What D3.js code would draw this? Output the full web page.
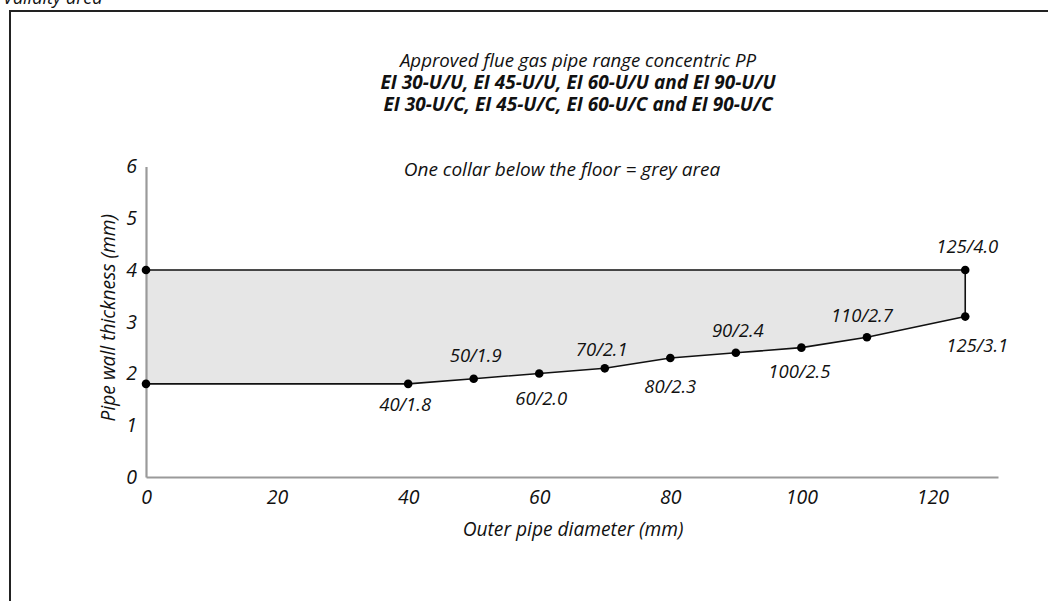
<!DOCTYPE html>
<html>
<head>
<meta charset="utf-8">
<script src="https://cdn.jsdelivr.net/npm/d3@7"></script>
<style>
  html, body { margin: 0; padding: 0; background: #fff; }
  svg { display: block; }
  text { font-family: "Open Sans", "Noto Sans", sans-serif; font-style: italic; fill: #111; }
</style>
</head>
<body>
<svg id="chart" width="1048" height="601"></svg>
<script>
// Outer pipe diameter (mm) and minimum wall thickness (mm) along the lower boundary
const diameters  = [0, 40, 50, 60, 70, 80, 90, 100, 110, 125];
const minWall    = [1.8, 1.8, 1.9, 2.0, 2.1, 2.3, 2.4, 2.5, 2.7, 3.1];
// Upper boundary of the approved range
const maxDiameter = 125;
const maxWall     = 4.0;
// Point labels on the boundary ("diameter/thickness")
const labelD      = [40, 50, 60, 70, 80, 90, 100, 110, 125, 125];
const labelT      = [1.8, 1.9, 2.0, 2.1, 2.3, 2.4, 2.5, 2.7, 3.1, 4.0];
// Axis ticks
const xTicks = [0, 20, 40, 60, 80, 100, 120];
const yTicks = [0, 1, 2, 3, 4, 5, 6];

const titleLines = [
  { text: "Approved flue gas pipe range concentric PP", bold: false },
  { text: "EI 30-U/U, EI 45-U/U, EI 60-U/U and EI 90-U/U", bold: true },
  { text: "EI 30-U/C, EI 45-U/C, EI 60-U/C and EI 90-U/C", bold: true }
];
const noteText = "One collar below the floor = grey area";

const svg = d3.select("#chart");

// Frame with caption
svg.append("text").attr("x", 3).attr("y", 4).attr("font-size", 18).text("Validity area");
svg.append("rect").attr("x", 10).attr("y", 11).attr("width", 1100).attr("height", 700)
  .attr("fill", "none").attr("stroke", "#222").attr("stroke-width", 2);

const x = d3.scaleLinear().domain([0, 130]).range([146, 998]);
const y = d3.scaleLinear().domain([0, 6]).range([477, 166.5]);

// Approved region: between the lower boundary and the max wall thickness
const lower = diameters.map((d, i) => [d, minWall[i]]);
const region = [[0, maxWall], [maxDiameter, maxWall]].concat(lower.slice().reverse());
svg.append("path")
  .datum(region)
  .attr("d", d3.line().x(d => x(d[0])).y(d => y(d[1])).curve(d3.curveLinearClosed))
  .attr("fill", "#e6e6e6").attr("stroke", "none");

// Axes
const xAxis = svg.append("g").attr("transform", `translate(0,${y(0)})`)
  .call(d3.axisBottom(x).tickValues(xTicks).tickSize(0).tickPadding(13).tickFormat(d3.format("d")));
const yAxis = svg.append("g").attr("transform", `translate(${x(0)},0)`)
  .call(d3.axisLeft(y).tickValues(yTicks).tickSize(0).tickPadding(9).tickFormat(d3.format("d")));
[xAxis, yAxis].forEach(g => {
  g.select(".domain").attr("stroke", "#9a9a9a").attr("stroke-width", 2.2);
  g.selectAll("text").attr("font-size", 19.5).attr("font-family", "'Open Sans', sans-serif")
    .attr("font-style", "italic").attr("fill", "#111");
});

// Boundary lines
const line = d3.line().x(d => x(d[0])).y(d => y(d[1]));
svg.append("path").datum(lower).attr("d", line)
  .attr("fill", "none").attr("stroke", "#111").attr("stroke-width", 1.6);
svg.append("path").datum([[0, maxWall], [maxDiameter, maxWall], [maxDiameter, minWall[minWall.length - 1]]])
  .attr("d", line).attr("fill", "none").attr("stroke", "#111").attr("stroke-width", 1.6);

// Boundary points
const points = lower.concat([[0, maxWall], [maxDiameter, maxWall]]);
svg.selectAll("circle.pt").data(points).enter().append("circle")
  .attr("class", "pt")
  .attr("cx", d => x(d[0])).attr("cy", d => y(d[1])).attr("r", 4.3).attr("fill", "#000");

// Point labels, alternating below/above the boundary
const labelOffset = [[-3, 27], [2, -17], [2, 31], [-3, -12], [0, 35], [2, -16], [-2, 30], [-5, -15], [12, 35], [2, -17]];
svg.selectAll("text.pl").data(labelD.map((d, i) => ({ d, t: labelT[i], o: labelOffset[i] })))
  .enter().append("text").attr("class", "pl")
  .attr("x", v => x(v.d) + v.o[0]).attr("y", v => y(v.t) + v.o[1])
  .attr("text-anchor", "middle").attr("font-size", 18.5)
  .text(v => `${v.d}/${v.t.toFixed(1)}`);

// Titles
const titleG = svg.append("g").attr("text-anchor", "middle");
titleLines.forEach((l, i) => {
  titleG.append("text").attr("x", 578).attr("y", 67 + i * 22)
    .attr("font-size", l.bold ? 19 : 18.7).attr("font-weight", l.bold ? 700 : 400).text(l.text);
});
svg.append("text").attr("x", 562).attr("y", 176).attr("text-anchor", "middle")
  .attr("font-size", 19).text(noteText);

// Axis titles
svg.append("text").attr("x", 573).attr("y", 536).attr("text-anchor", "middle")
  .attr("font-size", 19.2).text("Outer pipe diameter (mm)");
svg.append("text").attr("transform", `translate(115,${(y(0) + y(6)) / 2 - 4}) rotate(-90)`)
  .attr("text-anchor", "middle").attr("font-size", 19.2).text("Pipe wall thickness (mm)");
</script>
</body>
</html>
